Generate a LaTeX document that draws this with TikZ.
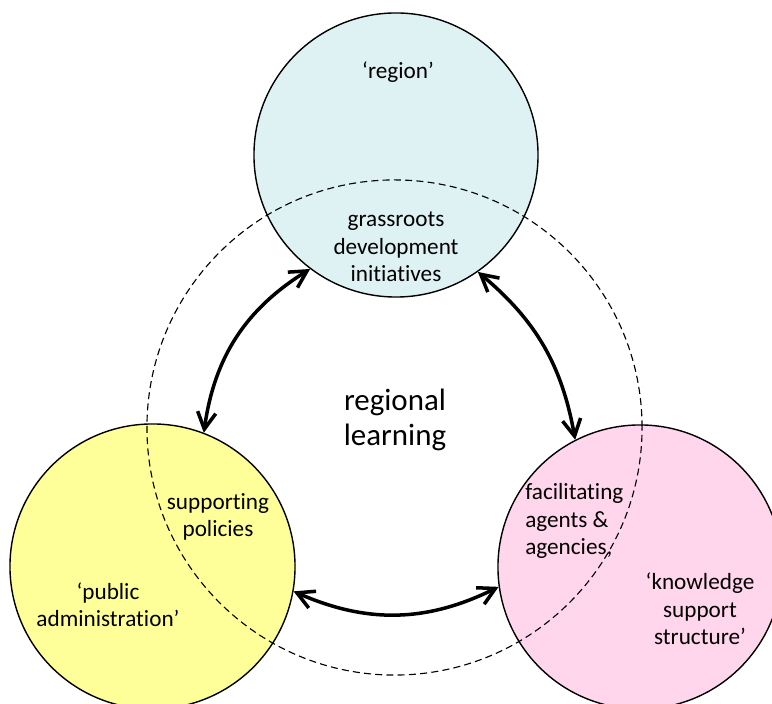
\documentclass[tikz,border=0pt]{standalone}
\usepackage{fontspec}
\setmainfont{Carlito}[Ligatures=NoCommon]
\usetikzlibrary{arrows.meta}
\definecolor{regioncol}{HTML}{DFF2F3}
\definecolor{admincol}{HTML}{FFFF99}
\definecolor{knowcol}{HTML}{FFD6EC}

\begin{document}
\begin{tikzpicture}[x=0.025cm, y=0.025cm,
    link/.style={draw, line width=2.5pt, <->, >={Straight Barb[length=12pt,width=13pt]}}]
      \useasboundingbox (0,0) rectangle (772,704);

      \begin{scope}[every node/.style={circle, draw, line width=1pt, inner sep=0pt}]
        \node[fill=regioncol, minimum size=7.1cm]   (region) at (396,549)     {};
        \node[fill=admincol, minimum size=7.125cm]  (admin)  at (152.5,137.5) {};
        \node[fill=knowcol, minimum size=7.1cm]     (know)   at (640,137)     {};
        \node[line width=0.8pt, dash pattern=on 5pt off 3pt, minimum size=12.375cm] (learn) at (394.5,276.5) {};
      \end{scope}

      \begin{scope}[every node/.style={align=center, inner sep=0pt, font=\fontsize{16.5}{19.5}\selectfont}]
        \node (regionlbl) at (398,632) {‘region’};
        \node (grass)     at (396,457) {grassroots\\development\\initiatives};
        \node (policy)    at (218,187) {supporting\\policies};
        \node (adminlbl)  at (108,99)  {‘public\\administration’};
        \node[anchor=west, align=left] (facil) at (525,183) {facilitating\\agents \&\\agencies,};
        \node (knowlbl)   at (700,95)  {‘knowledge\\support\\structure’};
        \node[font=\fontsize{22}{24.5}\selectfont] (learnlbl) at (395,284) {regional\\learning};
      \end{scope}

      \path (region.233) edge[link, bend right=25] (admin.69);
      \path (region.305) edge[link, bend left=20]  (know.117);
      \path (admin.350)  edge[link, bend right=25] (know.188);

    \end{tikzpicture}
\end{document}
